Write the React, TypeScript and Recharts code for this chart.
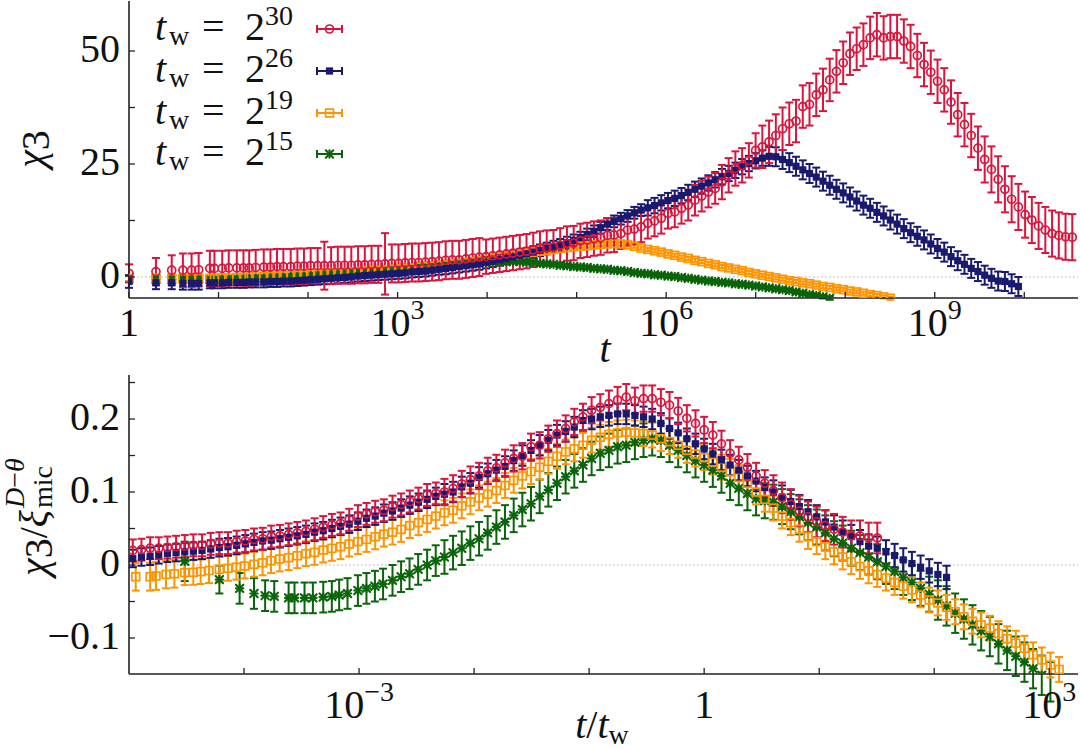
import React from 'react';
import { ScatterChart, Scatter, XAxis, YAxis, ErrorBar, ReferenceLine } from 'recharts';

const FONT = '"Liberation Serif", "DejaVu Serif", serif';
const AX = '#222';
const RED = '#dc143c';
const NAVY = '#191970';
const ORANGE = '#ff9400';
const GREEN = '#0a640a';

// measurement schedule: t = 1..6, then t = floor(2^(k/4)) for k >= 12
const T_HEAD = [1, 2, 3, 4, 5, 6];
const SCHED_K0 = 12;
function timeAt(i: number) {
  return i < T_HEAD.length ? T_HEAD[i] : Math.floor(Math.pow(2, (i - T_HEAD.length + SCHED_K0) / 4));
}

const TW_EXP = { a: 30, b: 26, c: 19, d: 15 };

// ---------- top panel: chi_3 vs t ----------
const TOP_30 = [
  0.8, 1.2, 1.5, 1.5, 1.5, 1.6,
  1.9, 1.9, 1.9, 2.0, 2.0, 2.0, 2.0, 2.1, 2.2, 2.2, 2.3, 2.3, 2.3, 2.4, 2.4, 2.5, 2.5, 2.5, 2.5, 2.6, 2.6, 2.6, 2.7, 2.7, 2.8, 2.8, 2.9, 3.0, 3.0, 3.1, 3.2, 3.2, 3.3, 3.4, 3.5,
  3.7, 3.8, 3.8, 4.0, 4.2, 4.4, 4.5, 4.7, 4.9, 5.1, 5.3, 5.5, 5.7, 6.0, 6.3, 6.5, 6.6, 7.0, 7.4, 7.5, 8.0, 8.2, 8.5, 8.7, 9.2, 9.3,
  9.6, 10.4, 10.6, 11.1, 11.9, 12.4, 13.0, 14.1, 14.4, 15.2, 15.9, 17.0, 17.9, 18.8, 19.6, 21.0, 22.5, 24.0, 24.7, 25.8, 28.0,
  28.8, 29.9, 31.3, 32.8, 33.9, 34.5, 37.7, 38.2, 40.3, 41.4, 43.6, 45.5, 47.4, 49.4, 50.5, 51.4, 52.9, 53.6, 52.9, 53.2, 53.2, 52.2, 51.0, 49.0, 47.0, 45.3, 43.3, 41.4, 38.7, 35.9, 33.7, 31.3, 28.5, 26.0, 23.8, 21.6, 19.4, 17.2, 15.5, 13.8, 12.6, 11.3, 10.4, 9.6, 9.2, 8.9, 8.8,
];
const TOP_26 = [
  -1.0, -1.3, -1.3, -1.4, -1.4, -1.4,
  -1.3, -1.3, -1.3, -1.2, -1.2, -1.2, -1.1, -1.1, -1.1, -1.0,
  -1.0, -0.9, -0.9, -0.8, -0.7, -0.6, -0.5, -0.4, -0.3, -0.2,
  -0.1, 0.0, 0.2, 0.3, 0.4, 0.5, 0.6, 0.7, 0.8, 0.9,
  1.1, 1.2, 1.3, 1.5, 1.7, 1.9, 2.1, 2.3, 2.5, 2.7,
  2.9, 3.2, 3.5, 3.8, 4.1, 4.4, 4.8, 5.1, 5.5, 5.9,
  6.3, 6.7, 7.1, 7.6, 8.1, 8.7, 9.4, 10.1, 10.9, 11.7,
  12.3, 12.9, 13.5, 14.2, 14.8, 15.3, 15.8, 16.4, 16.9, 17.4,
  18.0, 18.7, 19.4, 20.1, 20.8, 21.5, 22.2, 22.9, 23.6, 24.4,
  25.1, 25.7, 26.3,
  26.7, 26.6, 26.0, 25.3, 24.5, 23.7, 22.9, 22.1, 21.2, 20.3, 19.4, 18.6, 17.7, 16.8, 15.9, 15.2, 14.3, 13.5, 12.6, 11.7, 10.7, 9.8, 9.0, 8.2, 7.3, 6.3, 5.5, 4.5, 3.6, 2.8, 1.9, 1.2, 0.4, -0.3, -0.9, -1.0, -1.5, -2.1,
];
const TOP_19 = [
  -0.3, -0.3, -0.3, -0.3, -0.3, -0.3,
  -0.3, -0.3, -0.2, -0.2, -0.1, -0.1, 0.0, 0.0, 0.1, 0.2, 0.2, 0.3, 0.4, 0.4, 0.5, 0.6, 0.7, 0.8, 0.9, 1.0, 1.0, 1.1, 1.2, 1.3, 1.4, 1.5, 1.6, 1.7, 1.8, 1.9, 2.0, 2.2, 2.3, 2.4, 2.6,
  2.7, 2.9, 3.0, 3.2, 3.4, 3.6, 3.9, 4.1, 4.4, 4.6, 4.8, 5.1, 5.3, 5.5, 5.7, 5.9, 6.1, 6.3, 6.5, 6.7, 6.8, 6.9, 7.1, 7.2, 7.3, 7.4,
  7.3, 7.1, 6.8, 6.4, 6.1, 5.8, 5.5, 5.1, 4.8, 4.4, 4.1, 3.7, 3.4, 3.0, 2.7, 2.3, 2.0, 1.7, 1.4, 1.0, 0.7, 0.4, 0.1, -0.2,
  -0.5, -0.8, -1.0, -1.3, -1.5, -1.8, -2.1, -2.3, -2.6, -2.8, -3.1, -3.3, -3.6, -3.9, -4.1, -4.4, -4.7,
];
const TOP_15 = [
  -0.4, -0.5, -0.5, -0.4, -0.4, -0.4,
  -0.5, -0.5, -0.4, -0.4, -0.4, -0.3, -0.3, -0.2, -0.2, -0.1,
  0.0, 0.0, 0.1, 0.2, 0.3, 0.4, 0.5, 0.6, 0.7, 0.8,
  0.9, 1.0, 1.1, 1.2, 1.3, 1.4, 1.5, 1.6, 1.8, 1.9,
  2.0, 2.2, 2.3, 2.4, 2.5, 2.6, 2.7, 2.8, 2.9, 3.0,
  3.1, 3.2, 3.3, 3.3, 3.4, 3.4, 3.4, 3.3, 3.2, 3.0,
  2.9, 2.8, 2.6, 2.5, 2.3, 2.2, 2.1, 1.9, 1.8, 1.7,
  1.5, 1.4, 1.2, 1.0, 0.8, 0.7, 0.5, 0.4, 0.2, 0.1,
  -0.1, -0.3, -0.5, -0.7, -0.9, -1.0, -1.2, -1.3, -1.5, -1.6,
  -1.8, -2.0, -2.2, -2.4, -2.6, -2.8, -3.0, -3.3, -3.6, -3.9,
  -4.1, -4.4, -4.7,
];
// error half-widths: [last point index, error]
const ERR_TOP_30 = [[0, 2.0], [1, 3.0], [2, 3.3], [5, 3.7], [22, 3.9], [23, 5.3], [31, 4.1], [32, 6.8], [46, 4.2], [66, 3.8], [81, 3.4], [87, 3.8], [104, 4.7], [120, 4.8], [134, 5.1]];
const ERR_TOP_26 = [[5, 1.4], [40, 1.2], [70, 1.3], [88, 1.7], [126, 2.1]];
const ERR_TOP_19 = [[5, 0.7], [107, 0.35]];
const ERR_TOP_15 = [[5, 0.6], [98, 0.35]];

// ---------- bottom panel: chi_3 / xi^(D-theta) vs t/t_w ----------
const BOT_30_START = 48;
const BOT_30 = [
  0.020, 0.021, 0.023, 0.023, 0.024, 0.025, 0.026, 0.027, 0.027, 0.029,
  0.030, 0.030, 0.032, 0.033, 0.035, 0.036, 0.039, 0.040, 0.042, 0.044,
  0.046, 0.049, 0.052, 0.055, 0.057, 0.062, 0.067, 0.070, 0.073, 0.075,
  0.080, 0.083, 0.087, 0.091, 0.096, 0.098,
  0.100, 0.105, 0.111, 0.117, 0.122, 0.129, 0.133, 0.140, 0.146, 0.149, 0.162, 0.164, 0.173, 0.180, 0.187, 0.196, 0.203, 0.212, 0.216, 0.221, 0.226, 0.230, 0.225, 0.228, 0.228, 0.223, 0.219, 0.211, 0.201, 0.194, 0.185, 0.178, 0.166, 0.153, 0.144, 0.134, 0.122, 0.112,
  0.102, 0.092, 0.083, 0.074, 0.066, 0.059, 0.054, 0.049, 0.045, 0.040, 0.040, 0.037, 0.037,
];
const BOT_26_START = 32;
const BOT_26 = [
  0.009, 0.011, 0.012, 0.014, 0.016, 0.017, 0.018, 0.019, 0.020, 0.022, 0.024, 0.025, 0.027, 0.029, 0.031, 0.033, 0.034, 0.036, 0.038, 0.040, 0.042, 0.045, 0.047, 0.050, 0.053, 0.056, 0.060, 0.064, 0.067, 0.071, 0.074, 0.078, 0.082, 0.086, 0.090, 0.094,
  0.097, 0.100, 0.107, 0.112, 0.120, 0.125, 0.130, 0.135, 0.143, 0.150, 0.157, 0.164, 0.171, 0.178, 0.183, 0.189, 0.198, 0.200, 0.203, 0.205, 0.207, 0.207, 0.205, 0.203, 0.200, 0.194, 0.187, 0.181, 0.173, 0.166, 0.159, 0.152, 0.144, 0.137, 0.130, 0.122, 0.115, 0.106,
  0.100, 0.093, 0.087, 0.080, 0.073, 0.066, 0.059, 0.052, 0.045, 0.039, 0.032, 0.026, 0.023, 0.018, 0.013, 0.007, 0.002, -0.003, -0.008, -0.013, -0.017,
];
const BOT_19_START = 5;
const BOT_19 = [
  -0.016, -0.016, -0.015, -0.013, -0.012,
  -0.0105, -0.010, -0.009, -0.0077, -0.006, -0.0045, -0.003, -0.0014, 0.001, 0.003, 0.006, 0.0082, 0.010, 0.0127, 0.0155, 0.0173, 0.0205, 0.0228, 0.025, 0.0287, 0.032, 0.035, 0.0387, 0.0423, 0.045, 0.0487, 0.054, 0.058, 0.0624, 0.067,
  0.0715, 0.075, 0.081, 0.0865, 0.092, 0.097, 0.102, 0.109, 0.116, 0.122, 0.128, 0.134, 0.142, 0.149, 0.155, 0.159, 0.164, 0.171, 0.175, 0.179, 0.181, 0.182, 0.181, 0.180, 0.178, 0.173, 0.169, 0.164, 0.157, 0.152, 0.147, 0.141, 0.134, 0.128, 0.120, 0.112, 0.100, 0.090,
  0.078, 0.067, 0.058, 0.049, 0.039, 0.032, 0.025, 0.018, 0.011, 0.0045, -0.002, -0.008, -0.013, -0.018, -0.024, -0.029, -0.034, -0.041, -0.048, -0.052, -0.058, -0.064, -0.071, -0.077, -0.082, -0.0865, -0.094, -0.101, -0.107, -0.114, -0.123, -0.130, -0.137, -0.143,
];
const BOT_15_START = 0;
const BOT_15 = [
  0.005, -0.020, -0.032, -0.039, -0.042, -0.043,
  -0.045, -0.045, -0.045, -0.045, -0.044, -0.043, -0.041, -0.039, -0.035, -0.032, -0.029, -0.026, -0.021, -0.016, -0.012, -0.006, 0.000, 0.006,
  0.011,
  0.017, 0.023, 0.030, 0.036, 0.044, 0.052, 0.059, 0.068, 0.076, 0.084, 0.094, 0.103, 0.112, 0.121, 0.129, 0.137, 0.146, 0.153, 0.157, 0.162, 0.164, 0.168, 0.171, 0.173, 0.171, 0.164, 0.157, 0.150, 0.143, 0.137, 0.130, 0.122, 0.112, 0.105, 0.098, 0.091,
  0.088,
  0.086, 0.080, 0.073, 0.066, 0.058, 0.052, 0.044, 0.036, 0.030, 0.023, 0.017, 0.011, 0.0045, -0.002, -0.009, -0.017, -0.024, -0.032, -0.040, -0.048, -0.056, -0.066, -0.074, -0.082, -0.090, -0.098, -0.108, -0.117, -0.125, -0.133, -0.142,
  -0.151, -0.160,
];
const ERR_BOT_30 = [[35, 0.015], [73, 0.018], [86, 0.021]];
const ERR_BOT_26 = [[35, 0.012], [73, 0.014], [94, 0.016]];
const ERR_BOT_19 = [[4, 0.019], [106, 0.017]];
const ERR_BOT_15 = [[0, 0.027], [1, 0.019], [23, 0.021], [60, 0.023], [80, 0.024], [94, 0.027]];

// ---------- axes ----------
const TOP_X_DOMAIN = [1, Math.pow(10, 10.6)];
const TOP_X_TICKS = [1, 1e1, 1e2, 1e3, 1e4, 1e5, 1e6, 1e7, 1e8, 1e9, 1e10];
const TOP_X_LABEL_VALUES = [1, 1e3, 1e6, 1e9];
const TOP_X_LABELS = ['1', '10^3', '10^6', '10^9'];
const TOP_Y_DOMAIN = [-4.65, 61.06];
const TOP_Y_TICKS = [0, 12.5, 25, 37.5, 50];
const TOP_Y_LABEL_VALUES = [0, 25, 50];
const TOP_Y_LABELS = ['0', '25', '50'];

const BOT_X_DOMAIN = [1e-5, Math.pow(10, 3.25)];
const BOT_X_TICKS = [1e-4, 1e-3, 1e-2, 1e-1, 1, 1e1, 1e2, 1e3];
const BOT_X_LABEL_VALUES = [1e-3, 1, 1e3];
const BOT_X_LABELS = ['10^\u22123', '1', '10^3'];
const BOT_Y_DOMAIN = [-0.1493, 0.2603];
const BOT_Y_TICKS = [-0.1, -0.05, 0, 0.05, 0.1, 0.15, 0.2, 0.25];
const BOT_Y_LABEL_VALUES = [-0.1, 0, 0.1, 0.2];
const BOT_Y_LABELS = ['\u22120.1', '0', '0.1', '0.2'];

type Pt = { x: number; y: number; e: number };

function errAt(table: number[][], n: number) {
  for (const [upto, e] of table) if (n <= upto) return e;
  return table[table.length - 1][1];
}
function build(values: number[], start: number, twExp: number, errTable: number[][]): Pt[] {
  const tw = Math.pow(2, twExp);
  return values.map((v, n) => ({ x: timeAt(start + n) / tw, y: v, e: errAt(errTable, n) }));
}
function matchLabel(vals: number[], texts: string[], v: number) {
  for (let i = 0; i < vals.length; i++) {
    if (Math.abs(vals[i] - v) <= 1e-9 * Math.max(1, Math.abs(v))) return texts[i];
  }
  return null;
}

function PowText({ x, y, label, anchor }: any) {
  const parts = label.split('^');
  return (
    <text x={x} y={y} textAnchor={anchor} fontFamily={FONT} fontSize={40} fill="#111">
      <tspan>{parts[0]}</tspan>
      {parts.length > 1 && (
        <tspan fontSize={28} dy={-17}>
          {parts[1]}
        </tspan>
      )}
    </text>
  );
}

const TICK_LEN = 6;
const X_MARGIN = 10;
const Y_MARGIN = 10;

function makeXTick(vals: number[], texts: string[], labelDy: number) {
  return (p: any) => {
    const axisY = p.y - X_MARGIN;
    const lab = matchLabel(vals, texts, p.payload.value);
    return (
      <g>
        <line x1={p.x} x2={p.x} y1={axisY} y2={axisY - TICK_LEN} stroke={AX} strokeWidth={1.3} />
        {lab && <PowText x={p.x} y={axisY + labelDy} label={lab} anchor="middle" />}
      </g>
    );
  };
}
function makeYTick(vals: number[], texts: string[]) {
  return (p: any) => {
    const axisX = p.x + Y_MARGIN;
    const lab = matchLabel(vals, texts, p.payload.value);
    return (
      <g>
        <line x1={axisX} x2={axisX + TICK_LEN} y1={p.y} y2={p.y} stroke={AX} strokeWidth={1.3} />
        {lab && <PowText x={axisX - 9} y={p.y + 11} label={lab} anchor="end" />}
      </g>
    );
  };
}
const mirrorTopTick = (p: any) => (
  <line x1={p.x} x2={p.x} y1={p.y} y2={p.y + TICK_LEN} stroke={AX} strokeWidth={1.3} />
);
const mirrorRightTick = (p: any) => (
  <line x1={p.x} x2={p.x - TICK_LEN} y1={p.y} y2={p.y} stroke={AX} strokeWidth={1.3} />
);

// ---------- markers ----------
function drawMarker(kind: string, c: string, cx: number, cy: number) {
  if (cx == null || cy == null || isNaN(cx) || isNaN(cy)) return <g />;
  if (kind === 'circle') return <circle cx={cx} cy={cy} r={4} fill="none" stroke={c} strokeWidth={1.7} />;
  if (kind === 'fsquare') return <rect x={cx - 3.6} y={cy - 3.6} width={7.2} height={7.2} fill={c} />;
  if (kind === 'osquare')
    return <rect x={cx - 3.9} y={cy - 3.9} width={7.8} height={7.8} fill="none" stroke={c} strokeWidth={1.7} />;
  const r = 3.7;
  return (
    <g stroke={c} strokeWidth={2.1} strokeLinecap="round">
      <line x1={cx - r} y1={cy - r} x2={cx + r} y2={cy + r} />
      <line x1={cx - r} y1={cy + r} x2={cx + r} y2={cy - r} />
      <line x1={cx - r} y1={cy} x2={cx + r} y2={cy} />
      <line x1={cx} y1={cy - r} x2={cx} y2={cy + r} />
    </g>
  );
}

const SERIES = [
  { key: 'd', exp: TW_EXP.d, color: GREEN, kind: 'star', top: TOP_15, topErr: ERR_TOP_15, bot: BOT_15, botStart: BOT_15_START, botErr: ERR_BOT_15 },
  { key: 'c', exp: TW_EXP.c, color: ORANGE, kind: 'osquare', top: TOP_19, topErr: ERR_TOP_19, bot: BOT_19, botStart: BOT_19_START, botErr: ERR_BOT_19 },
  { key: 'b', exp: TW_EXP.b, color: NAVY, kind: 'fsquare', top: TOP_26, topErr: ERR_TOP_26, bot: BOT_26, botStart: BOT_26_START, botErr: ERR_BOT_26 },
  { key: 'a', exp: TW_EXP.a, color: RED, kind: 'circle', top: TOP_30, topErr: ERR_TOP_30, bot: BOT_30, botStart: BOT_30_START, botErr: ERR_BOT_30 },
];
const LEGEND_ORDER = ['a', 'b', 'c', 'd'];

function Panel({ width, height, margin, xDomain, xTicks, xLabVals, xLabs, xLabelDy, xHeight, yDomain, yTicks, yLabVals, yLabs, which }: any) {
  const axisLine = { stroke: AX, strokeWidth: 1.6 };
  return (
    <ScatterChart width={width} height={height} margin={margin}>
      <XAxis
        xAxisId="m" type="number" dataKey="x" scale="log" domain={xDomain} allowDataOverflow ticks={xTicks}
        interval={0} height={xHeight} tickSize={0} tickMargin={X_MARGIN} tickLine={false} axisLine={axisLine}
        tick={makeXTick(xLabVals, xLabs, xLabelDy)}
      />
      <XAxis
        xAxisId="t" orientation="top" type="number" scale="log" domain={xDomain} allowDataOverflow ticks={xTicks}
        interval={0} height={0} tickSize={0} tickMargin={0} tickLine={false} axisLine={axisLine} tick={mirrorTopTick}
      />
      <YAxis
        yAxisId="m" type="number" dataKey="y" domain={yDomain} allowDataOverflow ticks={yTicks} interval={0}
        width={129} tickSize={0} tickMargin={Y_MARGIN} tickLine={false} axisLine={axisLine} tick={makeYTick(yLabVals, yLabs)}
      />
      <YAxis
        yAxisId="r" orientation="right" type="number" domain={yDomain} allowDataOverflow ticks={yTicks} interval={0}
        width={0} tickSize={0} tickMargin={0} tickLine={false} axisLine={axisLine} tick={mirrorRightTick}
      />
      <ReferenceLine xAxisId="m" yAxisId="m" y={0} stroke="#aaa" strokeWidth={1} strokeDasharray="1.5 2.5" />
      {SERIES.map((s) => {
        const data = which === 'top' ? build(s.top, 0, 0, s.topErr) : build(s.bot, s.botStart, s.exp, s.botErr);
        return (
          <Scatter
            key={s.key}
            xAxisId="m"
            yAxisId="m"
            data={data}
            fill={s.color}
            isAnimationActive={false}
            shape={(p: any) => drawMarker(s.kind, s.color, p.cx, p.cy)}
          >
            <ErrorBar dataKey="e" direction="y" width={4} stroke={s.color} strokeWidth={2} isAnimationActive={false} />
          </Scatter>
        );
      })}
    </ScatterChart>
  );
}

function LegendAndLabels() {
  const rows = [29, 71, 113, 154];
  return (
    <svg width={1080} height={750} style={{ position: 'absolute', left: 0, top: 0, pointerEvents: 'none' }}>
      {LEGEND_ORDER.map((k, i) => {
        const s = SERIES.find((q) => q.key === k)!;
        const y = rows[i];
        return (
          <g key={k}>
            <text y={y + 11} fontFamily={FONT} fontSize={40} fill="#111">
              <tspan x={155} fontStyle="italic">t</tspan>
              <tspan x={169} dy={5} fontSize={28}>w</tspan>
              <tspan x={202} dy={-5}>=</tspan>
              <tspan x={245}>2</tspan>
              <tspan x={265} dy={-15} fontSize={28}>{String(s.exp)}</tspan>
            </text>
            <g stroke={s.color} strokeWidth={2}>
              <line x1={317} x2={342} y1={y} y2={y} />
              <line x1={317} x2={317} y1={y - 4} y2={y + 4} />
              <line x1={342} x2={342} y1={y - 4} y2={y + 4} />
            </g>
            {drawMarker(s.kind, s.color, 329.5, y)}
          </g>
        );
      })}
      {/* top axis labels */}
      <text transform="translate(44,149) rotate(-90)" textAnchor="middle" fontFamily={FONT} fontSize={40} fill="#111">
        <tspan fontStyle="italic">χ</tspan>
        <tspan dy={5}>3</tspan>
      </text>
      <text x={605} y={362} textAnchor="middle" fontFamily={FONT} fontSize={40} fontStyle="italic" fill="#111">
        t
      </text>
      {/* bottom axis labels */}
      <g transform="translate(47,603) rotate(-90)" fontFamily={FONT} fill="#111">
        <text x={93} y={0} textAnchor="end" fontSize={40}>
          <tspan fontStyle="italic">χ</tspan>
          <tspan dy={5}>3</tspan>
          <tspan dy={-5}>/</tspan>
          <tspan fontStyle="italic">ξ</tspan>
        </text>
        <text x={95} y={-23} fontSize={28}>
          <tspan fontStyle="italic">D</tspan>
          <tspan>−</tspan>
          <tspan fontStyle="italic">θ</tspan>
        </text>
        <text x={95} y={5} fontSize={28}>
          mic
        </text>
      </g>
      <text x={602} y={738} textAnchor="middle" fontFamily={FONT} fontSize={40} fill="#111">
        <tspan fontStyle="italic">t</tspan>
        <tspan>/</tspan>
        <tspan fontStyle="italic">t</tspan>
        <tspan fontSize={28} dy={6}>w</tspan>
      </text>
    </svg>
  );
}

export default function App() {
  return (
    <div style={{ position: 'absolute', left: 0, top: 0, width: 1080, height: 750, background: '#fff' }}>
      <div style={{ position: 'absolute', left: 0, top: 0 }}>
        <Panel
          which="top" width={1080} height={370} margin={{ top: 1, right: 2, bottom: 0, left: 0 }}
          xDomain={TOP_X_DOMAIN} xTicks={TOP_X_TICKS} xLabVals={TOP_X_LABEL_VALUES} xLabs={TOP_X_LABELS} xLabelDy={38} xHeight={72}
          yDomain={TOP_Y_DOMAIN} yTicks={TOP_Y_TICKS} yLabVals={TOP_Y_LABEL_VALUES} yLabs={TOP_Y_LABELS}
        />
      </div>
      <div style={{ position: 'absolute', left: 0, top: 370 }}>
        <Panel
          which="bot" width={1080} height={380} margin={{ top: 5, right: 2, bottom: 0, left: 0 }}
          xDomain={BOT_X_DOMAIN} xTicks={BOT_X_TICKS} xLabVals={BOT_X_LABEL_VALUES} xLabs={BOT_X_LABELS} xLabelDy={44} xHeight={76}
          yDomain={BOT_Y_DOMAIN} yTicks={BOT_Y_TICKS} yLabVals={BOT_Y_LABEL_VALUES} yLabs={BOT_Y_LABELS}
        />
      </div>
      <LegendAndLabels />
    </div>
  );
}
